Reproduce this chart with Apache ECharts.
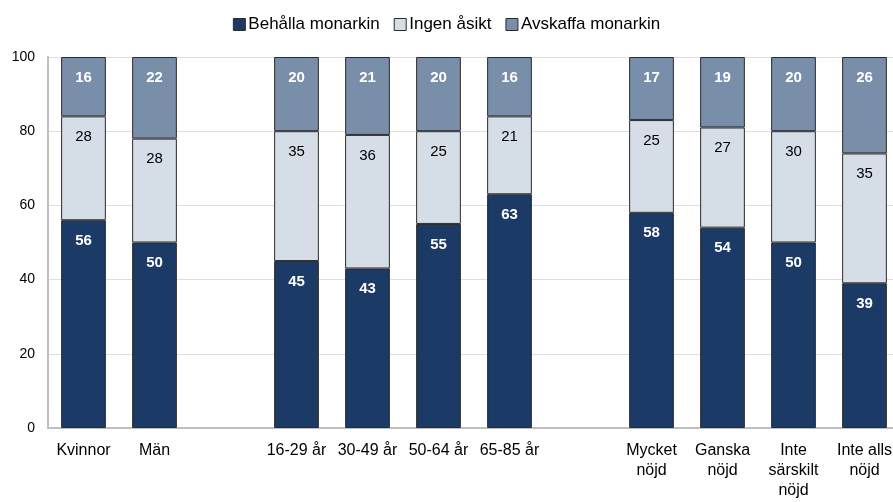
<!DOCTYPE html>
<html>
<head>
<meta charset="utf-8">
<script src="https://cdn.jsdelivr.net/npm/echarts@6/dist/echarts.min.js"></script>
<style>
  html, body { margin: 0; padding: 0; background: #fff; }
  #chart { width: 893px; height: 502px; }
</style>
</head>
<body>
<div id="chart"></div>
<script>
// kategorier, tomma platser ger mellanrum mellan grupperna
var categories = ['Kvinnor', 'Män', ' ', '16-29 år', '30-49 år', '50-64 år', '65-85 år', '  ',
  'Mycket\nnöjd', 'Ganska\nnöjd', 'Inte\nsärskilt\nnöjd', 'Inte alls\nnöjd'];
var behalla = [56, 50, '-', 45, 43, 55, 63, '-', 58, 54, 50, 39];
var ingenAsikt = [28, 28, '-', 35, 36, 25, 21, '-', 25, 27, 30, 35];
var avskaffa = [16, 22, '-', 20, 21, 20, 16, '-', 17, 19, 20, 26];
var yTicks = [0, 20, 40, 60, 80, 100];

var font = 'Liberation Sans, Arial, sans-serif';

function serie(name, data, color, textColor, bold) {
  return {
    name: name,
    type: 'bar',
    stack: 'total',
    barWidth: '63%',
    data: data,
    itemStyle: { color: color, borderColor: '#2b2b2b', borderWidth: 1 },
    label: {
      show: true,
      position: 'insideTop',
      distance: 13,
      color: textColor,
      fontFamily: font,
      fontSize: 15,
      fontWeight: bold ? 'bold' : 'normal'
    }
  };
}

var myChart = echarts.init(document.getElementById('chart'));
var option = {
  animation: false,
  legend: {
    top: 11,
    left: 'center',
    icon: 'rect',
    itemWidth: 12,
    itemHeight: 12,
    itemGap: 14,
    textStyle: { fontFamily: font, fontSize: 17, color: '#000', padding: [0, 0, 0, -2] },
    itemStyle: { borderColor: '#2b2b2b', borderWidth: 1 }
  },
  grid: { left: 48, width: 852, top: 57, bottom: 74, outerBoundsMode: 'none', containLabel: false },
  xAxis: {
    type: 'category',
    data: categories,
    axisLine: { show: true, lineStyle: { color: '#bfbfbf', width: 2 } },
    axisTick: { show: false },
    axisLabel: {
      interval: 0,
      margin: 13,
      fontFamily: font,
      fontSize: 16,
      lineHeight: 20,
      color: '#000'
    }
  },
  yAxis: {
    type: 'value',
    min: yTicks[0],
    max: yTicks[yTicks.length - 1],
    interval: 20,
    axisLine: { show: true, lineStyle: { color: '#bfbfbf', width: 2 } },
    axisTick: { show: false },
    splitLine: { lineStyle: { color: '#dedede', width: 1 } },
    axisLabel: { fontFamily: font, fontSize: 14, color: '#000', margin: 13 }
  },
  series: [
    serie('Behålla monarkin', behalla, '#1b3a66', '#fff', true),
    serie('Ingen åsikt', ingenAsikt, '#d5dde6', '#000', false),
    serie('Avskaffa monarkin', avskaffa, '#788ea9', '#fff', true)
  ]
};
myChart.setOption(option);
window.addEventListener('resize', myChart.resize);
</script>
</body>
</html>
